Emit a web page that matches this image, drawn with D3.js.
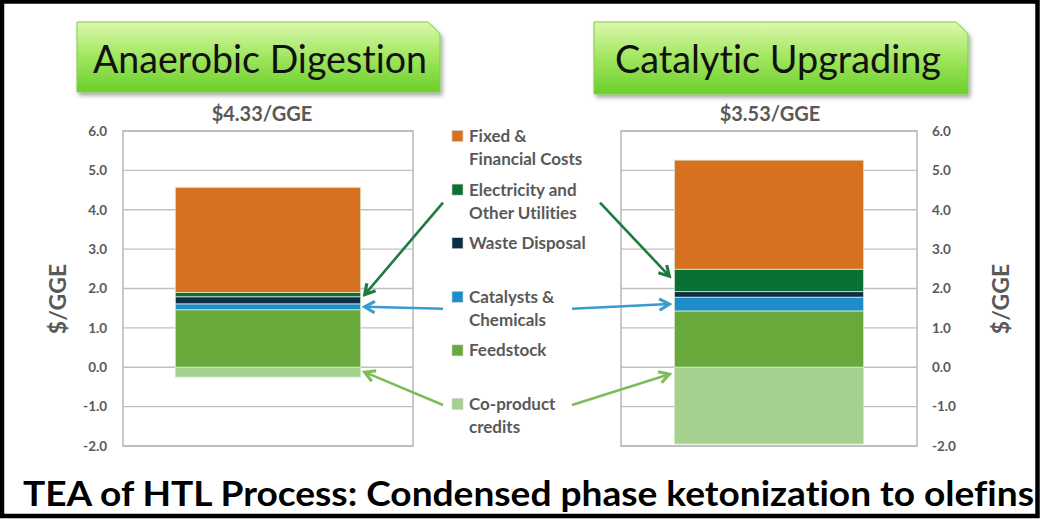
<!DOCTYPE html>
<html>
<head>
<meta charset="utf-8">
<script src="https://cdn.jsdelivr.net/npm/d3@7"></script>
<style>
  html, body { margin: 0; padding: 0; background: #fff; }
  svg { display: block; }
  text { font-family: Lato, "Open Sans", sans-serif; font-variant-ligatures: none; font-feature-settings: "liga" 0, "clig" 0; }
</style>
</head>
<body>
<svg id="chart" width="1040" height="519"></svg>
<script>
// ---------- data ----------
const categories = ["Anaerobic Digestion", "Catalytic Upgrading"];
const totals = ["$4.33/GGE", "$3.53/GGE"];
const seriesKeys = ["feedstock", "catalysts", "waste", "electricity", "fixed", "coproduct"];
const seriesLabels = {
  fixed: ["Fixed &", "Financial Costs"],
  electricity: ["Electricity and", "Other Utilities"],
  waste: ["Waste Disposal"],
  catalysts: ["Catalysts &", "Chemicals"],
  feedstock: ["Feedstock"],
  coproduct: ["Co-product", "credits"]
};
const legendOrder = ["fixed", "electricity", "waste", "catalysts", "feedstock", "coproduct"];
const fixedCosts   = [2.67, 2.77];
const electricity  = [0.11, 0.57];
const wasteDisposal= [0.18, 0.14];
const catalysts    = [0.15, 0.35];
const feedstock    = [1.46, 1.43];
const coproduct    = [-0.25, -1.95];
const yTicks = [-2, -1, 0, 1, 2, 3, 4, 5, 6];
const yLabel = "$/GGE";
const footer = "TEA of HTL Process: Condensed phase ketonization to olefins";

const colors = {
  fixed: "#D8711F",
  electricity: "#0A7034",
  waste: "#0B2D45",
  catalysts: "#1C8FCB",
  feedstock: "#69A83A",
  coproduct: "#A6D08E"
};

const rows = categories.map((c, i) => ({
  category: c,
  fixed: fixedCosts[i], electricity: electricity[i], waste: wasteDisposal[i],
  catalysts: catalysts[i], feedstock: feedstock[i], coproduct: coproduct[i]
}));

// ---------- layout ----------
const svg = d3.select("#chart");
const gray = "#595959";
const y = d3.scaleLinear().domain([-2, 6]).range([446, 131]);
const panels = [
  { x0: 123, x1: 413, side: "left", titleBox: [77, 22, 363, 70], titleCx: 260, totalCx: 262 },
  { x0: 621, x1: 917, side: "right", titleBox: [594, 22, 374, 72], titleCx: 778, totalCx: 770 }
];

const defs = svg.append("defs");
const grad = defs.append("linearGradient").attr("id", "boxGrad")
  .attr("x1", 0).attr("y1", 0).attr("x2", 0).attr("y2", 1);
grad.append("stop").attr("offset", 0).attr("stop-color", "#dcf8b0");
grad.append("stop").attr("offset", 0.45).attr("stop-color", "#a6e865");
grad.append("stop").attr("offset", 1).attr("stop-color", "#6ccf2a");
const sh = defs.append("filter").attr("id", "shadow").attr("x", "-10%").attr("y", "-10%").attr("width", "130%").attr("height", "140%");
sh.append("feDropShadow").attr("dx", 2).attr("dy", 3).attr("stdDeviation", 2).attr("flood-color", "#000").attr("flood-opacity", 0.35);

const stack = d3.stack().keys(seriesKeys).offset(d3.stackOffsetDiverging);
const stacked = stack(rows);

const fmt = d => d.toFixed(1);

panels.forEach((p, i) => {
  const g = svg.append("g");
  // title box
  const [bx, by, bw, bh] = p.titleBox;
  const c = 12;
  g.append("path")
    .attr("d", `M${bx},${by} H${bx + bw - c} L${bx + bw},${by + c} V${by + bh} H${bx} Z`)
    .attr("fill", "url(#boxGrad)")
    .attr("stroke", "#86c94e").attr("stroke-width", 1)
    .attr("filter", "url(#shadow)");
  g.append("text").attr("x", p.titleCx).attr("y", by + 51)
    .attr("text-anchor", "middle").attr("font-size", 38).attr("fill", "#111")
    .attr("textLength", i === 0 ? 334 : 326).attr("lengthAdjust", "spacingAndGlyphs")
    .text(categories[i]);
  // total
  g.append("text").attr("x", p.totalCx).attr("y", 121)
    .attr("text-anchor", "middle").attr("font-size", 20).attr("font-weight", 700)
    .attr("fill", gray).text(totals[i]);

  // gridlines + frame
  g.append("g").selectAll("line").data(yTicks).join("line")
    .attr("x1", p.x0).attr("x2", p.x1)
    .attr("y1", d => y(d)).attr("y2", d => y(d))
    .attr("stroke", "#c0c0c0").attr("stroke-width", 1.3);
  g.append("rect").attr("x", p.x0).attr("y", y(6)).attr("width", p.x1 - p.x0).attr("height", y(-2) - y(6))
    .attr("fill", "none").attr("stroke", "#b8b8b8").attr("stroke-width", 1.5);

  // axis
  const axis = (p.side === "left" ? d3.axisLeft(y) : d3.axisRight(y))
    .tickValues(yTicks).tickSize(0).tickPadding(p.side === "left" ? 16 : 15).tickFormat(fmt);
  const ax = g.append("g").attr("transform", `translate(${p.side === "left" ? p.x0 : p.x1},0)`).call(axis);
  ax.select(".domain").remove();
  ax.selectAll("text").attr("font-size", 13.5).attr("font-weight", 700).attr("fill", gray)
    .attr("font-family", "Lato, sans-serif");

  // axis title
  const lx = p.side === "left" ? 66 : 1009;
  g.append("text").attr("transform", `translate(${lx},${299}) rotate(-90)`)
    .attr("text-anchor", "middle").attr("font-size", 23).attr("font-weight", 700)
    .attr("fill", gray).text(yLabel);

  // bars
  const x = d3.scaleBand().domain([categories[i]]).range([p.x0, p.x1]).padding(0.22);
  p.x = x;
  stacked.forEach(s => {
    const d = s[i];
    g.append("rect")
      .attr("x", x(categories[i])).attr("width", x.bandwidth())
      .attr("y", y(Math.max(d[0], d[1]))).attr("height", Math.abs(y(d[0]) - y(d[1])))
      .attr("fill", colors[s.key])
      .attr("stroke", "#d9e8d0").attr("stroke-width", 0.8);
  });
});

// ---------- legend ----------
const legendX = 452, legendY0 = 136, legendStep = 53.6;
const lg = svg.append("g");
legendOrder.forEach((k, j) => {
  const cy = legendY0 + j * legendStep;
  lg.append("rect").attr("x", legendX).attr("y", cy - 5.5).attr("width", 11).attr("height", 11)
    .attr("fill", colors[k]).attr("stroke", "#cfcfcf").attr("stroke-width", 0.6);
  seriesLabels[k].forEach((line, li) => {
    lg.append("text").attr("x", legendX + 17).attr("y", cy + 6 + li * 23)
      .attr("font-size", 17).attr("font-weight", 700).attr("fill", gray).text(line);
  });
});

// ---------- arrows ----------
const arrowSpecs = [
  { key: "electricity", color: "#1F7A40", dy: 13, startL: 443, startR: 600 },
  { key: "catalysts", color: "#3A9BCF", dy: 12, startL: 443, startR: 572 },
  { key: "coproduct", color: "#7DBD58", dy: 1, startL: 443, startR: 572 }
];
arrowSpecs.forEach((a, ai) => {
  defs.append("marker").attr("id", "ah" + ai)
    .attr("viewBox", "0 0 10 10").attr("refX", 8).attr("refY", 5)
    .attr("markerWidth", 5.5).attr("markerHeight", 5.5).attr("markerUnits", "strokeWidth")
    .attr("orient", "auto")
    .append("path").attr("d", "M1,1 L8,5 L1,9").attr("fill", "none")
    .attr("stroke", a.color).attr("stroke-width", 2.2).attr("stroke-linejoin", "miter");
  const j = legendOrder.indexOf(a.key);
  const sy = legendY0 + j * legendStep + a.dy;
  const s = stacked.find(t => t.key === a.key);
  panels.forEach((p, i) => {
    const d = s[i];
    const top = y(Math.max(d[0], d[1])), bot = y(Math.min(d[0], d[1]));
    const ty = top + Math.min((bot - top) / 2, 7);
    const bx = p.x(categories[i]);
    const tx = p.side === "left" ? bx + p.x.bandwidth() + 4 : bx - 5;
    const sx = p.side === "left" ? a.startL : a.startR;
    svg.append("line").attr("x1", sx).attr("y1", sy).attr("x2", tx).attr("y2", ty)
      .attr("stroke", a.color).attr("stroke-width", 2.6)
      .attr("marker-end", `url(#ah${ai})`);
  });
});

// ---------- footer + frame ----------
svg.append("text").attr("x", 23).attr("y", 506)
  .attr("font-size", 35).attr("font-weight", 700).attr("fill", "#000")
  .attr("textLength", 1011).attr("lengthAdjust", "spacingAndGlyphs")
  .text(footer);
svg.append("rect").attr("x", 2).attr("y", 1.5).attr("width", 1035.5).attr("height", 514.5)
  .attr("fill", "none").attr("stroke", "#000").attr("stroke-width", 4.5);
</script>
</body>
</html>
